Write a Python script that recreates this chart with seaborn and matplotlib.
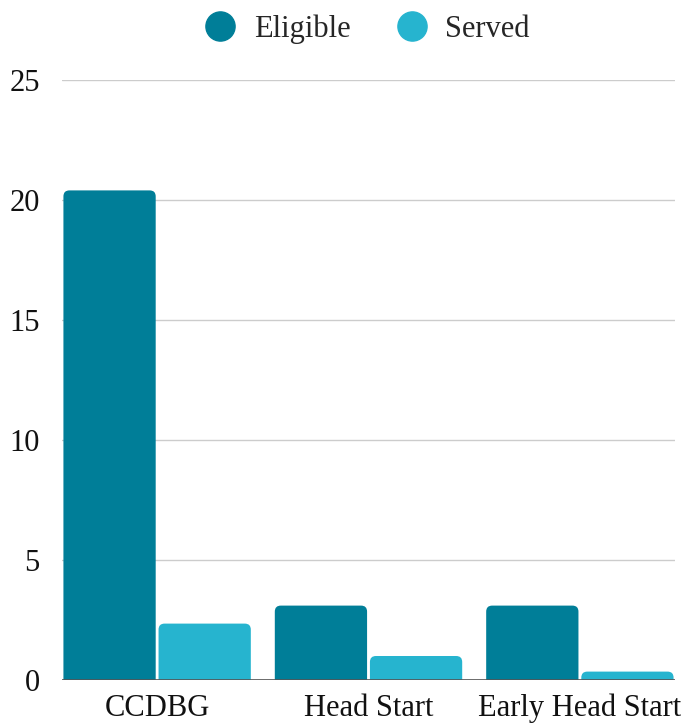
import pandas as pd
import numpy as np
import matplotlib
matplotlib.use("Agg")
import matplotlib.pyplot as plt
import seaborn as sns
from matplotlib.patches import FancyBboxPatch
from matplotlib.lines import Line2D

# --- data ---
programs = ["CCDBG", "Head Start", "Early Head Start"]
eligible = [20.4, 3.1, 3.1]
served = [2.35, 1.0, 0.35]
series = ["Eligible", "Served"]
colors = ["#007E98", "#26B4CF"]
yticks = [0, 5, 10, 15, 20, 25]

df = pd.DataFrame({
    "program": programs * 2,
    "value": eligible + served,
    "status": [series[0]] * len(programs) + [series[1]] * len(programs),
})

sns.set_style("white")
plt.rcParams["font.family"] = ["Liberation Serif", "DejaVu Serif"]

fig = plt.figure(figsize=(6.83, 7.24), dpi=100)
ax = fig.add_axes([62 / 683, 44 / 724, 613 / 683, 600 / 724])

sns.barplot(data=df, x="program", y="value", hue="status", order=programs,
            hue_order=series, palette=colors, width=0.9, gap=0.03,
            legend=False, ax=ax, saturation=1)

ax.set_xlim(-0.45, 2.45)
ax.set_ylim(0, 25)

# swap plain bars for ones with rounded tops
x_per_px = 2.9 / 613
y_per_px = 25 / 600
r_px = 6
for bar in list(ax.patches):
    x, w, h = bar.get_x(), bar.get_width(), bar.get_height()
    fc = bar.get_facecolor()
    bar.remove()
    ext = r_px * y_per_px
    rb = FancyBboxPatch((x, -ext), w, h + ext,
                        boxstyle=f"round,pad=0,rounding_size={r_px * x_per_px}",
                        mutation_aspect=y_per_px / x_per_px,
                        facecolor=fc, edgecolor="none", zorder=2)
    ax.add_patch(rb)

ax.set_yticks(yticks)
ax.set_yticklabels([str(t) for t in yticks])
ax.grid(axis="y", color="#CCCCCC", linewidth=1)
ax.set_axisbelow(True)
ax.axhline(0, color="#555555", linewidth=1.2, zorder=3)
for s in ax.spines.values():
    s.set_visible(False)
ax.tick_params(axis="both", length=0, labelsize=22, colors="#111111")
ax.tick_params(axis="y", pad=16)
ax.tick_params(axis="x", pad=10)
ax.set_xlabel("")
ax.set_ylabel("")

handles = [Line2D([], [], marker="o", linestyle="", markersize=21,
                  markerfacecolor=c, markeredgecolor=c) for c in colors]
fig.legend(handles, series, loc="upper center", bbox_to_anchor=(0.527, 1.018),
           ncol=2, frameon=False, fontsize=22, handletextpad=0.1,
           columnspacing=1.0)

plt.savefig("out.png", dpi=100)
